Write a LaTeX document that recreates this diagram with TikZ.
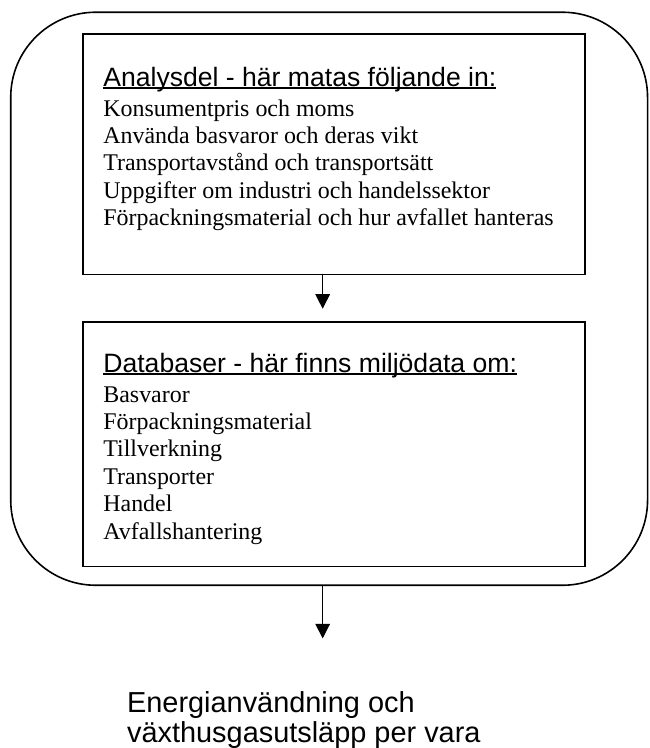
\documentclass[tikz,border=0pt]{standalone}
\usepackage{fontspec}
\setmainfont{Liberation Serif}
\newfontfamily\headfont{Liberation Sans}
\usetikzlibrary{arrows.meta}
\newcommand{\headline}[1]{\setbox0\hbox{#1}\rlap{\rule[-1.8pt]{\wd0}{1.3pt}}\box0}
\tikzset{
  frame/.style={draw, line width=1.2pt, rounded corners=64pt, minimum width=479.25pt, minimum height=431.25pt},
  panel/.style={draw, line width=1.2pt, minimum width=378pt},
  paneltext/.style={anchor=north west, inner sep=0pt, align=left, font=\fontsize{18}{20.6}\selectfont},
  flow/.style={line width=0.9pt, -{Triangle[length=11pt,width=11pt]}}
}
\begin{document}
\begin{tikzpicture}[x=0.75pt,y=-0.75pt]
\filldraw[color=white] (0.000000, 0.000000) rectangle (651.000000, 748.000000);
% Drawing frame and panels
\node (frame) [frame] at (330.000000, 299.500000) {};
\node (analys) [panel, minimum height=180.75pt] at (335.000000, 154.500000) {};
\node (databas) [panel, minimum height=183.75pt] at (335.000000, 445.500000) {};
% Done with panels; drawing texts
\node (analystext) [paneltext] at ([shift={(21,34)}]analys.north west)
  {{\headfont\fontsize{20}{20}\selectfont\headline{Analysdel - här matas följande in:}}\\[1.5pt]
   Konsumentpris och moms\\
   Använda basvaror och deras vikt\\
   Transportavstånd och transportsätt\\
   Uppgifter om industri och handelssektor\\
   Förpackningsmaterial och hur avfallet hanteras};
\node (databastext) [paneltext] at ([shift={(21,32)}]databas.north west)
  {{\headfont\fontsize{20}{20}\selectfont\headline{Databaser - här finns miljödata om:}}\\[1.5pt]
   Basvaror\\
   Förpackningsmaterial\\
   Tillverkning\\
   Transporter\\
   Handel\\
   Avfallshantering};
\node (result) [anchor=north west, inner sep=0pt, align=left, font=\headfont\fontsize{21.75}{22.5}\selectfont] at (127.000000, 693.000000)
  {Energianvändning och\\växthusgasutsläpp per vara};
% Done with texts; drawing arrows
\coordinate (mid) at (323.500000, 0.000000);
\draw[flow, shorten >=9.5pt] (analys.south -| mid) -- (databas.north -| mid);
\draw[flow, shorten >=39.5pt] (frame.south -| mid) -- (result.north -| mid);
% Done with arrows
\end{tikzpicture}
\end{document}
